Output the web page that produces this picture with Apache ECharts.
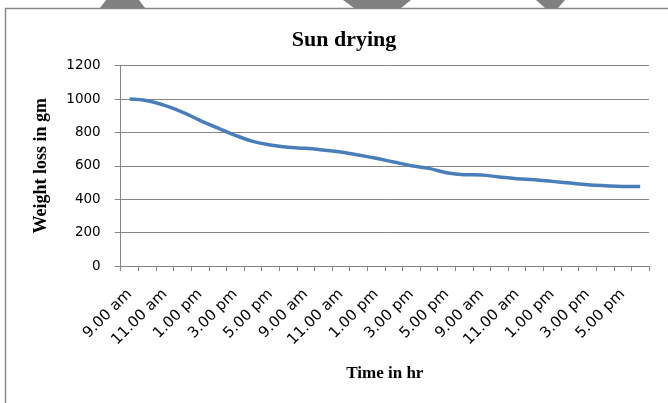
<!DOCTYPE html>
<html>
<head>
<meta charset="utf-8">
<script src="https://cdn.jsdelivr.net/npm/echarts@6/dist/echarts.min.js"></script>
<style>
html,body{margin:0;padding:0;background:#fff;}
#chart{width:668px;height:403px;}
</style>
</head>
<body>
<div id="chart"></div>
<script>
const dayHours = ['9.00 am','10.00 am','11.00 am','12.00 pm','1.00 pm','2.00 pm','3.00 pm','4.00 pm','5.00 pm','6.00 pm'];
const categories = dayHours.concat(dayHours, dayHours);
const weightLoss = [1000, 990, 962, 922, 873, 827, 783, 747, 725, 711,
                    705, 695, 683, 665, 645, 623, 601, 585, 559, 547,
                    545, 533, 523, 517, 507, 497, 487, 481, 477, 477];
const titleText = 'Sun drying';
const xName = 'Time in hr';
const yName = 'Weight loss in gm';

const chart = echarts.init(document.getElementById('chart'), null, {renderer: 'canvas'});
const serif = '"Liberation Serif", "Times New Roman", serif';
const sans = '"DejaVu Sans", Verdana, sans-serif';
chart.setOption({
  animation: false,
  backgroundColor: '#ffffff',
  title: {
    text: titleText,
    left: 339, top: 24, textAlign: 'center',
    textStyle: {fontFamily: serif, fontWeight: 'bold', fontSize: 22, color: '#000'}
  },
  graphic: [
    {type: 'rect', shape: {x: 5.5, y: 8.5, width: 680, height: 420}, style: {fill: 'none', stroke: '#8a8a8a', lineWidth: 1.5}, z: 0},
    {type: 'polygon', shape: {points: [[106, 0], [139, 0], [145, 8], [100, 8]]}, style: {fill: '#808080'}},
    {type: 'polygon', shape: {points: [[343, 0], [411, 0], [401, 8], [354, 8]]}, style: {fill: '#808080'}},
    {type: 'polygon', shape: {points: [[536, 0], [565, 0], [558, 8], [545, 8]]}, style: {fill: '#808080'}}
  ],
  grid: {left: 120.7, right: 19, top: 65.7, bottom: 137, containLabel: false},
  xAxis: {
    type: 'category',
    data: categories,
    boundaryGap: true,
    name: xName,
    nameLocation: 'middle',
    nameGap: 99,
    nameTextStyle: {fontFamily: serif, fontWeight: 'bold', fontSize: 17, color: '#000'},
    axisLine: {lineStyle: {color: '#868686', width: 1}},
    axisTick: {show: true, interval: 0, length: 5, lineStyle: {color: '#868686'}},
    axisLabel: {interval: 1, rotate: 45, margin: 26, fontFamily: sans, fontSize: 15, color: '#000'},
    splitLine: {show: false}
  },
  yAxis: {
    type: 'value',
    min: 0, max: 1200, interval: 200,
    name: yName,
    nameLocation: 'middle',
    nameGap: 70,
    nameTextStyle: {fontFamily: serif, fontWeight: 'bold', fontSize: 18, color: '#000'},
    axisLine: {show: true, lineStyle: {color: '#868686', width: 1}},
    axisTick: {show: true, length: 6, lineStyle: {color: '#868686'}},
    axisLabel: {margin: 20, fontFamily: sans, fontSize: 13.5, color: '#000', formatter: function (v) { return String(v); }},
    splitLine: {show: true, lineStyle: {color: '#868686', width: 1}}
  },
  series: [{
    type: 'line',
    data: weightLoss,
    smooth: 0.4,
    showSymbol: false,
    symbol: 'none',
    lineStyle: {color: '#4a7ebb', width: 3.5},
    itemStyle: {color: '#4a7ebb'}
  }]
});
</script>
</body>
</html>
